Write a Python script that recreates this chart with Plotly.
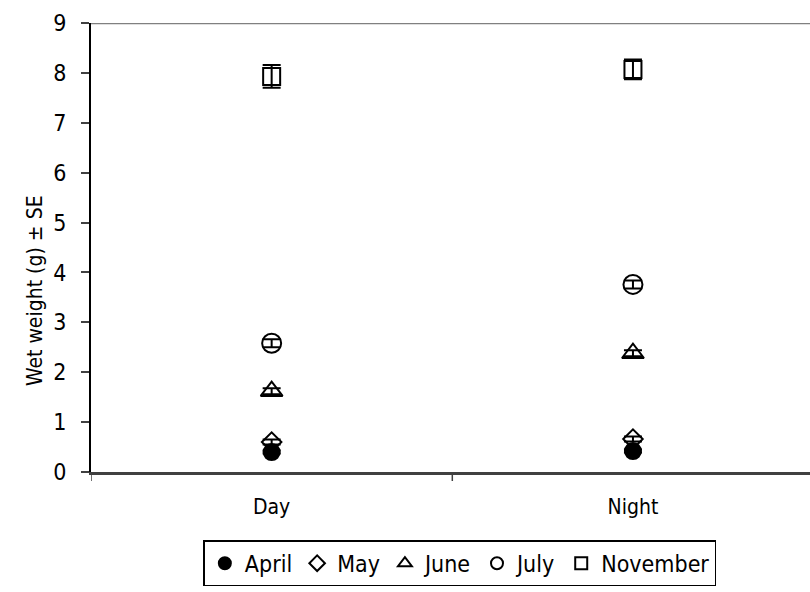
import plotly.graph_objects as go

periods = ["Day", "Night"]
months = ["April", "May", "June", "July", "November"]
wet_weight = {
    "April": [0.40, 0.42],
    "May": [0.60, 0.66],
    "June": [1.62, 2.38],
    "July": [2.58, 3.76],
    "November": [7.93, 8.07],
}
std_err = {
    "April": [0.03, 0.03],
    "May": [0.05, 0.05],
    "June": [0.06, 0.06],
    "July": [0.08, 0.08],
    "November": [0.23, 0.20],
}
y_ticks = list(range(0, 10))
y_title = "Wet weight (g) ± SE"

symbols = {
    "April": "circle",
    "May": "diamond-open",
    "June": "triangle-up-open",
    "July": "circle-open",
    "November": "square-open",
}
sizes = {"April": 16, "May": 15, "June": 19, "July": 19, "November": 17}

font_family = "DejaVu Sans Condensed, Liberation Sans Narrow, sans-serif"

fig = go.Figure()
for m in months:
    fig.add_trace(go.Scatter(
        x=periods,
        y=wet_weight[m],
        name=m,
        mode="markers",
        marker=dict(symbol=symbols[m], size=sizes[m], color="black",
                    line=dict(color="black", width=2)),
        error_y=dict(type="data", array=std_err[m], color="black",
                     thickness=2, width=9),
    ))

# plot frame line at the top of the value axis
fig.add_shape(type="line", xref="paper", yref="y", x0=0, x1=1,
              y0=y_ticks[-1], y1=y_ticks[-1],
              line=dict(color="#808080", width=2.5))

# rotated value-axis title, placed a little below the plot's mid-height
fig.add_annotation(text=y_title, textangle=-90, showarrow=False,
                   xref="paper", yref="paper", x=-0.078, y=0.405,
                   xanchor="center", yanchor="middle",
                   font=dict(size=21))

fig.update_layout(
    width=810, height=592,
    margin=dict(l=91, r=0, t=23, b=120),
    paper_bgcolor="white", plot_bgcolor="white",
    font=dict(family=font_family, color="black", size=20),
    showlegend=True,
    legend=dict(orientation="h", x=0.513, xanchor="center", y=-0.152,
                yanchor="top", bordercolor="black", borderwidth=1.5,
                font=dict(size=23), bgcolor="white",
                itemsizing="constant"),
)
fig.update_xaxes(
    type="category", range=[-0.5, 1.49],
    showline=True, linecolor="#404040", linewidth=2.5,
    showgrid=False, zeroline=False,
    ticks="outside", ticklen=0, tickfont=dict(size=21),
    ticklabelstandoff=14,
)
fig.update_yaxes(
    range=[0, 9], tickvals=y_ticks,
    showline=True, linecolor="black", linewidth=2,
    showgrid=False, zeroline=False,
    ticks="outside", ticklen=8, tickcolor="#404040", tickwidth=1.5,
    tickfont=dict(size=23), ticklabelstandoff=10,
)

# category separators on the x axis
for xv in [-0.5, 0.5, 1.5]:
    fig.add_shape(type="line", xref="x", yref="paper", x0=xv, x1=xv,
                  y0=0, y1=-0.02, line=dict(color="#404040", width=1.5))

fig.write_html("out.html")
